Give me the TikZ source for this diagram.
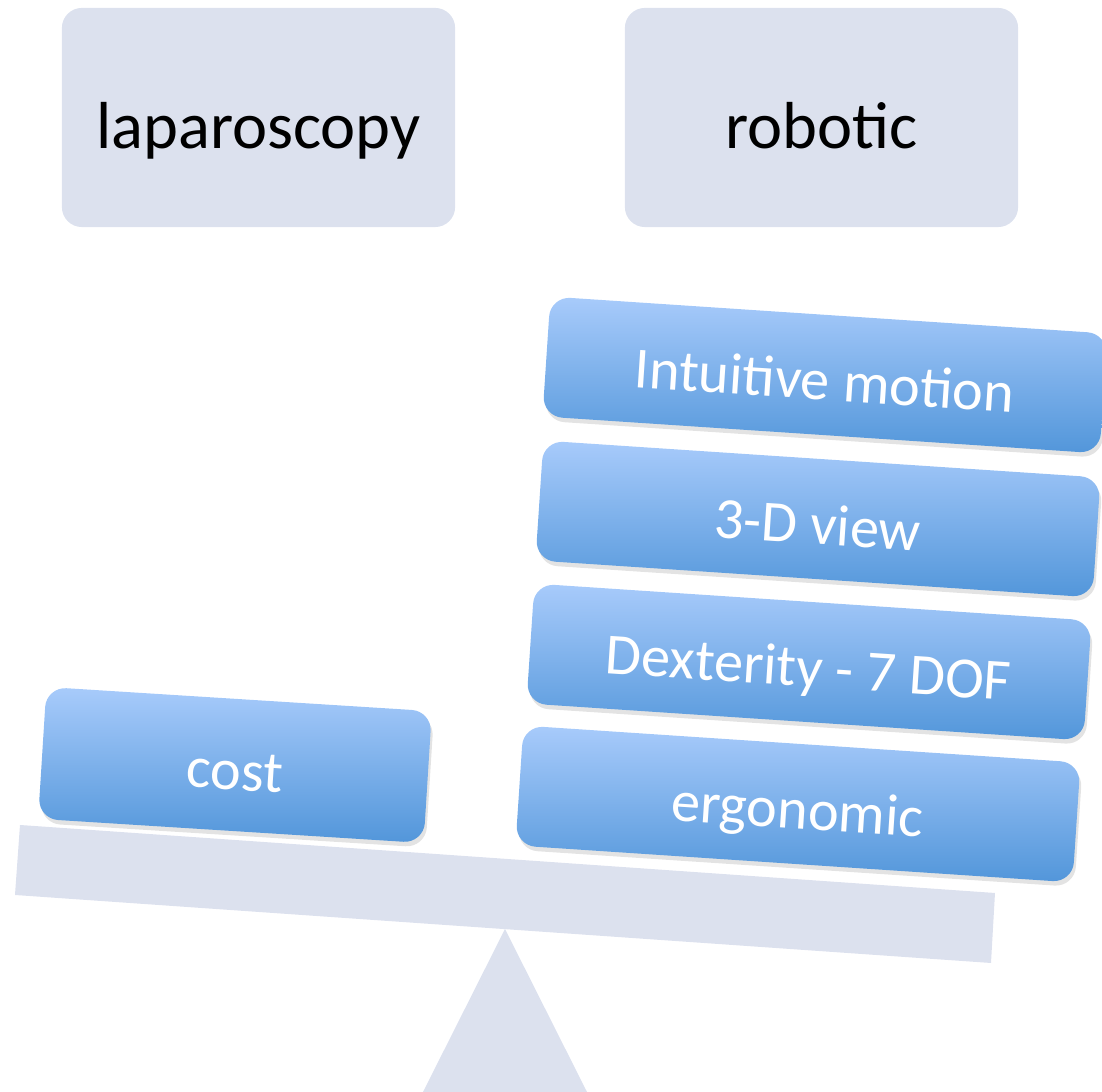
\documentclass[tikz,border=0pt]{standalone}
\usepackage{fontspec}
\setmainfont{Carlito}
\usetikzlibrary{shadows}
\definecolor{panelgray}{RGB}{220,225,238}
\definecolor{weighttop}{RGB}{168,203,251}
\definecolor{weightbot}{RGB}{82,150,218}
\tikzset{
  category/.style={fill=panelgray, rounded corners=0.2cm, minimum width=3.93cm,
    minimum height=2.19cm, inner sep=0pt, text=black,
    text height=0.76cm, text depth=0.15cm,
    font=\fontsize{18.9}{23}\selectfont},
  weight/.style={rounded corners=0.2cm, top color=weighttop, bottom color=weightbot,
    draw=none, text=white, inner sep=0pt, rotate=-3.8,
    text height=0.62cm, text depth=0.12cm,
    font=\fontsize{16.6}{19}\selectfont,
    drop shadow={opacity=0.22, shadow xshift=0.02cm, shadow yshift=-0.045cm},
    minimum height=1.2cm, minimum width=5.58cm},
  beamfill/.style={fill=panelgray},
}
\begin{document}
\begin{tikzpicture}[x=0.01cm,y=-0.01cm]
\useasboundingbox (0,0) rectangle (1102,1092);
\clip (0,0) rectangle (1102,1092);
% the two options being weighed
\node[category] (lap) at (258.5,117.5) {laparoscopy};
\node[category] (rob) at (821.5,117.5) {robotic};
% fulcrum and tilted beam of the balance
\fill[beamfill] (505,929) -- (423,1092) -- (587,1092) -- cycle;
\fill[beamfill] (20,825) -- (995,893) -- (991,963) -- (15,895) -- cycle;
% weights on the left pan
\node[weight, minimum width=3.86cm, minimum height=1.32cm, rotate=0.2] (cost) at (235,765) {cost};
% weights on the right pan
\node[weight] (ergo) at (798,804) {ergonomic};
\node[weight] (dex) at (809,662) {Dexterity - 7 DOF};
\node[weight] (view) at (818,519) {3-D view};
\node[weight] (motion) at (825,375) {Intuitive motion};
\end{tikzpicture}
\end{document}
